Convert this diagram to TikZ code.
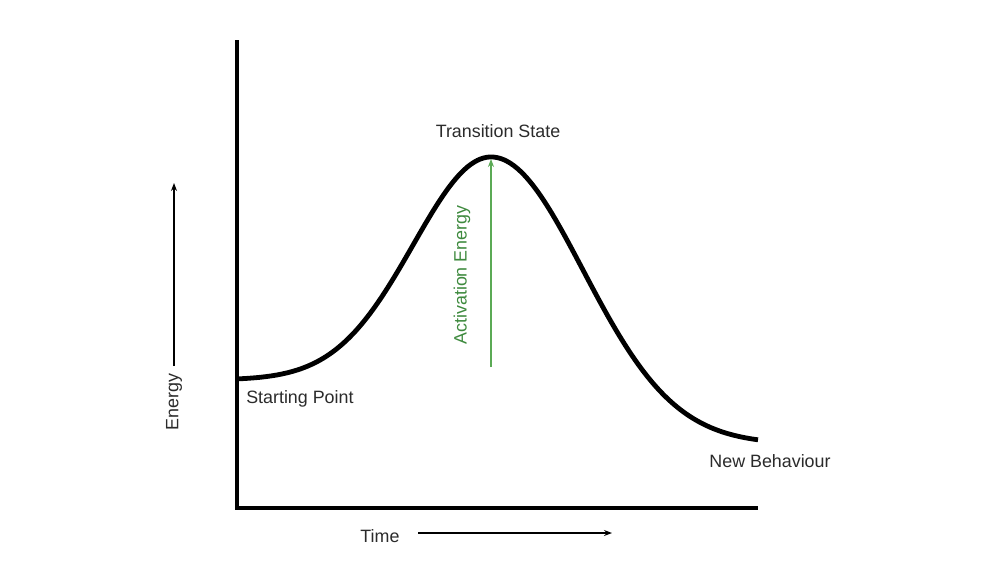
\documentclass[tikz,border=0pt]{standalone}
\usepackage{fontspec}
\setmainfont{Liberation Sans}
\usetikzlibrary{arrows.meta}
\definecolor{txt}{HTML}{2B2B2B}
\definecolor{aegreen}{HTML}{5BAA55}
\definecolor{aetext}{HTML}{3E8A3E}
\begin{document}
\begin{tikzpicture}[x=0.75pt,y=-0.75pt,
  axis/.style={line width=3pt,black},
  curve/.style={line width=3.6pt,black},
  lbl/.style={font=\fontsize{13.4}{15}\selectfont,text=txt,inner sep=0pt},
  thinarrow/.style={line width=0.9pt,-{Stealth[length=6pt,width=4.5pt]}}]
\useasboundingbox[fill=white] (0,0) rectangle (1000,564);
% axes
\coordinate (top) at (237,40);
\coordinate (origin) at (237,508);
\coordinate (xend) at (758,508);
\draw[axis] (top) -- (origin) -- (xend);
% curve
\draw[curve] plot[domain=237:490,samples=80,smooth] (\x,{380-223*exp(-((\x-491)/110)^2)});
\draw[curve] plot[domain=490:758,samples=80,smooth] (\x,{444-287*exp(-((\x-491)/130)^2)});
% labels
\node[lbl] (ts) at (498,131) {Transition State};
\node[lbl,anchor=west] (sp) at (246,399) {Starting Point};
\node[lbl] (nb) at (770,461) {New Behaviour};
\node[lbl] (time) at (380,536) {Time};
\node[lbl,rotate=90] (energy) at (174,402) {Energy};
\node[lbl,rotate=90,text=aetext] (ae) at (462,275) {Activation Energy};
% axis arrows
\coordinate (tA) at (418,533);
\coordinate (tB) at (612,533);
\draw[thinarrow] (tA) -- (tB);
\coordinate (eA) at (174,366);
\coordinate (eB) at (174,183);
\draw[thinarrow] (eA) -- (eB);
% activation energy arrow
\coordinate (aA) at (491,367);
\coordinate (aB) at (491,159);
\draw[line width=0.9pt,aegreen,-{Stealth[length=6pt,width=4.5pt]}] (aA) -- (aB);
\end{tikzpicture}
\end{document}
